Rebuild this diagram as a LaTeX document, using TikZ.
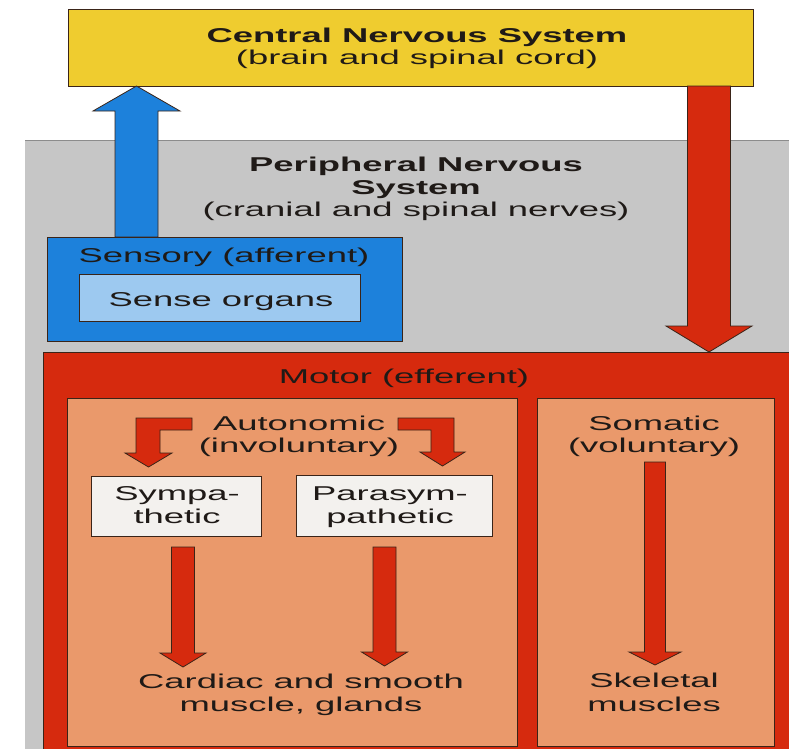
\documentclass[tikz,border=0pt]{standalone}
\usepackage{fontspec}
\setmainfont{Liberation Sans}[FakeStretch=1.82]
\usetikzlibrary{calc}
\definecolor{cnsyellow}{HTML}{EFCC2F}
\definecolor{pnsgray}{HTML}{C6C6C6}
\definecolor{sensblue}{HTML}{1D81DB}
\definecolor{lightblue}{HTML}{9DC9F0}
\definecolor{motorred}{HTML}{D62A0E}
\definecolor{salmonfill}{HTML}{EA996B}
\definecolor{palebox}{HTML}{F3F1EE}
\definecolor{inkline}{HTML}{3A2418}
\definecolor{txt}{HTML}{1F1A17}
\newcommand\fatarrow[6]{%
  \coordinate (hb) at ($(#2)!#5pt!(#1)$);
  \draw[fat, fill=#6] ($(#1)+(-#3,0)$) -- ($(hb)+(-#3,0)$) -- ($(hb)+(-#4,0)$) -- (#2)
    -- ($(hb)+(#4,0)$) -- ($(hb)+(#3,0)$) -- ($(#1)+(#3,0)$) -- cycle;
}
\begin{document}
\begin{tikzpicture}[x=1pt,y=-1pt,
  frame/.style={draw=inkline, line width=0.8pt, inner sep=0pt, outer sep=0pt, anchor=north west},
  lbl/.style={text=txt, font=\fontsize{20}{22}\selectfont, inner sep=0pt, anchor=base},
  title/.style={text=txt, font=\fontsize{20}{22}\selectfont\bfseries, inner sep=0pt, anchor=base},
  fat/.style={draw=inkline, line width=0.8pt, line join=miter},
]
\clip (0,0) rectangle (789,748);
\fill[white] (0,0) rectangle (789,748);
% peripheral background
\fill[pnsgray] (25,140) rectangle (800,760);
\draw[black!45, line width=0.6pt] (25,140) -- (800,140);

% boxes
\node[frame, fill=cnsyellow, minimum width=685, minimum height=77] (cns) at (68,9) {};
\node[frame, fill=motorred, minimum width=770, minimum height=420] (motor) at (43,352) {};

% big arrows
\coordinate (bx) at (136.5,0);
\coordinate (blueFrom) at (bx |- 0,237);
\coordinate (blueTo) at (bx |- cns.south);
\fatarrow{blueFrom}{blueTo}{21.5}{43.5}{25}{sensblue}
\coordinate (rx) at (709,0);
\coordinate (redFrom) at (rx |- cns.south);
\coordinate (redTo) at (rx |- motor.north);
\fatarrow{redFrom}{redTo}{21.5}{43}{26}{motorred}

\node[frame, fill=sensblue, minimum width=355, minimum height=104] (sensory) at (47,237) {};
\node[frame, fill=lightblue, minimum width=281, minimum height=47] (organs) at (79,274) {};
\node[frame, fill=salmonfill, minimum width=450, minimum height=348] (auto) at (67,398) {};
\node[frame, fill=salmonfill, minimum width=237, minimum height=348] (soma) at (537,398) {};
\node[frame, fill=palebox, minimum width=170, minimum height=60] (symp) at (91,476) {};
\node[frame, fill=palebox, minimum width=196, minimum height=61] (para) at (296,475) {};

% bent arrows from Autonomic
\draw[fat, fill=motorred] (136,418) -- (192,418) -- (192,430) -- (160,430) -- (160,453)
  -- (172,453) -- (148.5,467) -- (125,453) -- (136,453) -- cycle;
\draw[fat, fill=motorred] (454,418) -- (398,418) -- (398,430) -- (431,430) -- (431,452)
  -- (420,452) -- (442.5,466) -- (465,452) -- (454,452) -- cycle;

% thin arrows
\coordinate (sx) at (183,0);
\coordinate (symFrom) at (sx |- 0,547);
\coordinate (symTo) at (sx |- 0,667);
\fatarrow{symFrom}{symTo}{11.5}{23}{14}{motorred}
\coordinate (px) at (384.5,0);
\coordinate (parFrom) at (px |- 0,547);
\coordinate (parTo) at (px |- 0,666);
\fatarrow{parFrom}{parTo}{11.5}{23}{14}{motorred}
\coordinate (mx) at (655,0);
\coordinate (somFrom) at (mx |- 0,462);
\coordinate (somTo) at (mx |- 0,665);
\fatarrow{somFrom}{somTo}{10.5}{26}{13}{motorred}

% texts
\node[title] (cnsA) at (417,42) {Central Nervous System};
\node[lbl] (cnsB) at (417,64) {(brain and spinal cord)};
\node[title] (pnsA) at (416,171) {Peripheral Nervous};
\node[title] (pnsB) at (416,194) {System};
\node[lbl] (pnsC) at (416,216) {(cranial and spinal nerves)};
\node[lbl] (sensT) at (224,262) {Sensory (afferent)};
\node[lbl] (orgT) at (221,306) {Sense organs};
\node[lbl] (motT) at (404,383) {Motor (efferent)};
\node[lbl] (autA) at (299,430) {Autonomic};
\node[lbl] (autB) at (299,452) {(involuntary)};
\node[lbl] (somA) at (654,430) {Somatic};
\node[lbl] (somB) at (654,452) {(voluntary)};
\node[lbl] (sympA) at (177,500) {Sympa-};
\node[lbl] (sympB) at (177,523) {thetic};
\node[lbl] (paraA) at (390,500) {Parasym-};
\node[lbl] (paraB) at (390,523) {pathetic};
\node[lbl] (cardA) at (301,688) {Cardiac and smooth};
\node[lbl] (cardB) at (301,711) {muscle, glands};
\node[lbl] (skelA) at (654,687) {Skeletal};
\node[lbl] (skelB) at (654,711) {muscles};
\end{tikzpicture}
\end{document}
